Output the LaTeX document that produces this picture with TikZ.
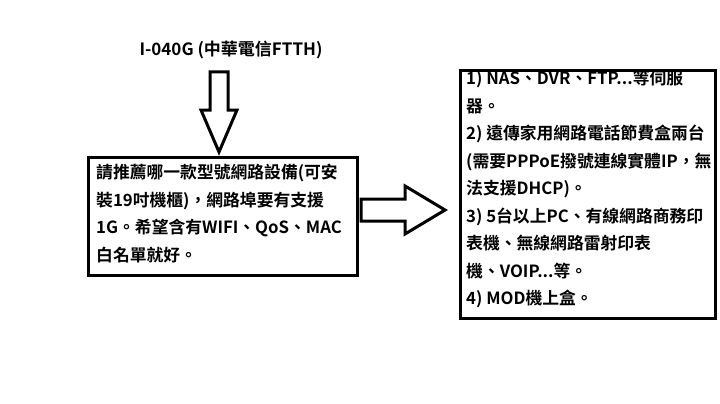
\documentclass[tikz,border=0pt]{standalone}
\usepackage{fontspec}
\setmainfont{Noto Sans CJK TC}[BoldFont={Noto Sans CJK TC Bold}]
\usetikzlibrary{positioning}
\tikzstyle{box} = [rectangle, line width=3pt, draw=black, inner sep=0pt]
\tikzstyle{txt} = [align=left, anchor=north west, inner sep=0pt, font=\bfseries\fontsize{16.8}{27.5}\selectfont]
\tikzstyle{fat} = [line width=3pt, line join=miter, draw=black, fill=white]
\begin{document}
\begin{tikzpicture}[x=1pt, y=-1pt]
	\useasboundingbox (0,0) rectangle (720,404);
	\node (Title) at (231,50) [font=\bfseries\fontsize{17}{19}\selectfont] {I-040G (中華電信FTTH)};
	\draw [box] (88,157) rectangle (357,275);
	\node (LeftText) [txt] at (96,164) {請推薦哪一款型號網路設備(可安\\裝19吋機櫃)，網路埠要有支援\\1G。希望含有WIFI、QoS、MAC\\白名單就好。};
	\draw [box] (460,71) rectangle (715,318);
	\node (RightText) [txt] at (466,70) {1) NAS、DVR、FTP...等伺服\\器。\\2) 遠傳家用網路電話節費盒兩台\\(需要PPPoE撥號連線實體IP，無\\法支援DHCP)。\\3) 5台以上PC、有線網路商務印\\表機、無線網路雷射印表\\機、VOIP...等。\\4) MOD機上盒。};
	% block arrows
	\draw [fat] (210,72) -- (228,72) -- (228,110) -- (237,110) -- (219,152) -- (201,110) -- (210,110) -- cycle;
	\draw [fat] (361,199) -- (405,199) -- (405,186) -- (445,210) -- (405,234) -- (405,221) -- (361,221) -- cycle;
\end{tikzpicture}
\end{document}
